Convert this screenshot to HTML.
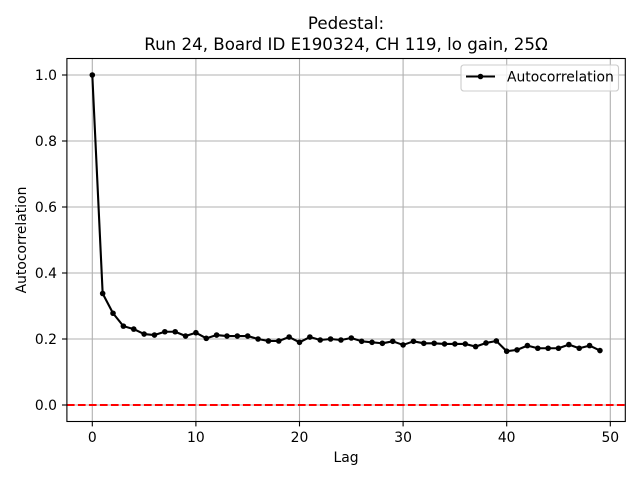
<!DOCTYPE html>
<html><head><meta charset="utf-8"><style>
html,body{margin:0;padding:0;background:#fff;}
svg{display:block;}
text{font-family:"DejaVu Sans","Liberation Sans",sans-serif;fill:#000;}
</style></head><body>
<svg width="640" height="480" viewBox="0 0 640 480" xmlns="http://www.w3.org/2000/svg">
<rect width="640" height="480" fill="#fff"/>
<!-- grid -->
<g stroke="#b0b0b0" stroke-width="1.1">
<line x1="92.3" y1="58.5" x2="92.3" y2="421.5"/>
<line x1="195.9" y1="58.5" x2="195.9" y2="421.5"/>
<line x1="299.5" y1="58.5" x2="299.5" y2="421.5"/>
<line x1="403.1" y1="58.5" x2="403.1" y2="421.5"/>
<line x1="506.7" y1="58.5" x2="506.7" y2="421.5"/>
<line x1="610.3" y1="58.5" x2="610.3" y2="421.5"/>
<line x1="66.9" y1="405" x2="625.3" y2="405"/>
<line x1="66.9" y1="339" x2="625.3" y2="339"/>
<line x1="66.9" y1="273" x2="625.3" y2="273"/>
<line x1="66.9" y1="207" x2="625.3" y2="207"/>
<line x1="66.9" y1="141" x2="625.3" y2="141"/>
<line x1="66.9" y1="75" x2="625.3" y2="75"/>
</g>
<!-- data line -->
<polyline fill="none" stroke="#000" stroke-width="2.1" stroke-linejoin="round" points="92.3,75 102.66,293.46 113.02,313.26 123.38,326.13 133.74,329.1 144.1,334.05 154.46,335.04 164.82,331.74 175.18,331.74 185.54,336.03 195.9,332.73 206.26,338.34 216.62,335.04 226.98,336.03 237.34,336.03 247.7,336.03 258.06,339 268.42,340.98 278.78,340.98 289.14,337.02 299.5,342.3 309.86,337.02 320.22,339.99 330.58,339 340.94,339.99 351.3,338.01 361.66,341.31 372.02,342.3 382.38,343.29 392.74,341.31 403.1,344.94 413.46,341.31 423.82,343.29 434.18,343.29 444.54,343.95 454.9,343.95 465.26,343.95 475.62,346.59 485.98,342.96 496.34,340.98 506.7,351.21 517.06,349.89 527.42,345.6 537.78,348.24 548.14,348.24 558.5,348.24 568.86,344.61 579.22,348.24 589.58,345.6 599.94,350.55"/>
<g fill="#000">
<circle cx="92.3" cy="75" r="2.8"/><circle cx="102.66" cy="293.46" r="2.8"/><circle cx="113.02" cy="313.26" r="2.8"/><circle cx="123.38" cy="326.13" r="2.8"/><circle cx="133.74" cy="329.1" r="2.8"/><circle cx="144.1" cy="334.05" r="2.8"/><circle cx="154.46" cy="335.04" r="2.8"/><circle cx="164.82" cy="331.74" r="2.8"/><circle cx="175.18" cy="331.74" r="2.8"/><circle cx="185.54" cy="336.03" r="2.8"/><circle cx="195.9" cy="332.73" r="2.8"/><circle cx="206.26" cy="338.34" r="2.8"/><circle cx="216.62" cy="335.04" r="2.8"/><circle cx="226.98" cy="336.03" r="2.8"/><circle cx="237.34" cy="336.03" r="2.8"/><circle cx="247.7" cy="336.03" r="2.8"/><circle cx="258.06" cy="339" r="2.8"/><circle cx="268.42" cy="340.98" r="2.8"/><circle cx="278.78" cy="340.98" r="2.8"/><circle cx="289.14" cy="337.02" r="2.8"/><circle cx="299.5" cy="342.3" r="2.8"/><circle cx="309.86" cy="337.02" r="2.8"/><circle cx="320.22" cy="339.99" r="2.8"/><circle cx="330.58" cy="339" r="2.8"/><circle cx="340.94" cy="339.99" r="2.8"/><circle cx="351.3" cy="338.01" r="2.8"/><circle cx="361.66" cy="341.31" r="2.8"/><circle cx="372.02" cy="342.3" r="2.8"/><circle cx="382.38" cy="343.29" r="2.8"/><circle cx="392.74" cy="341.31" r="2.8"/><circle cx="403.1" cy="344.94" r="2.8"/><circle cx="413.46" cy="341.31" r="2.8"/><circle cx="423.82" cy="343.29" r="2.8"/><circle cx="434.18" cy="343.29" r="2.8"/><circle cx="444.54" cy="343.95" r="2.8"/><circle cx="454.9" cy="343.95" r="2.8"/><circle cx="465.26" cy="343.95" r="2.8"/><circle cx="475.62" cy="346.59" r="2.8"/><circle cx="485.98" cy="342.96" r="2.8"/><circle cx="496.34" cy="340.98" r="2.8"/><circle cx="506.7" cy="351.21" r="2.8"/><circle cx="517.06" cy="349.89" r="2.8"/><circle cx="527.42" cy="345.6" r="2.8"/><circle cx="537.78" cy="348.24" r="2.8"/><circle cx="548.14" cy="348.24" r="2.8"/><circle cx="558.5" cy="348.24" r="2.8"/><circle cx="568.86" cy="344.61" r="2.8"/><circle cx="579.22" cy="348.24" r="2.8"/><circle cx="589.58" cy="345.6" r="2.8"/><circle cx="599.94" cy="350.55" r="2.8"/>
</g>
<!-- red dashed zero line -->
<line x1="66.9" y1="405" x2="625.3" y2="405" stroke="#ff0000" stroke-width="2.1" stroke-dasharray="7.7,3.3"/>
<!-- spines -->
<rect x="66.9" y="58.5" width="558.4" height="363" fill="none" stroke="#000" stroke-width="1.1"/>
<!-- ticks -->
<g stroke="#000" stroke-width="1.1">
<line x1="92.3" y1="421.5" x2="92.3" y2="426.4"/>
<line x1="195.9" y1="421.5" x2="195.9" y2="426.4"/>
<line x1="299.5" y1="421.5" x2="299.5" y2="426.4"/>
<line x1="403.1" y1="421.5" x2="403.1" y2="426.4"/>
<line x1="506.7" y1="421.5" x2="506.7" y2="426.4"/>
<line x1="610.3" y1="421.5" x2="610.3" y2="426.4"/>
<line x1="62" y1="405" x2="66.9" y2="405"/>
<line x1="62" y1="339" x2="66.9" y2="339"/>
<line x1="62" y1="273" x2="66.9" y2="273"/>
<line x1="62" y1="207" x2="66.9" y2="207"/>
<line x1="62" y1="141" x2="66.9" y2="141"/>
<line x1="62" y1="75" x2="66.9" y2="75"/>
</g>
<g font-size="13.9px" text-anchor="middle">
<text x="92.3" y="442">0</text>
<text x="195.9" y="442">10</text>
<text x="299.5" y="442">20</text>
<text x="403.1" y="442">30</text>
<text x="506.7" y="442">40</text>
<text x="610.3" y="442">50</text>
</g>
<g font-size="13.9px" text-anchor="end">
<text x="57" y="410">0.0</text>
<text x="57" y="344">0.2</text>
<text x="57" y="278">0.4</text>
<text x="57" y="212">0.6</text>
<text x="57" y="146">0.8</text>
<text x="57" y="80">1.0</text>
</g>
<text x="346" y="462" font-size="13.9px" text-anchor="middle">Lag</text>
<text transform="translate(26,240) rotate(-90)" font-size="13.9px" text-anchor="middle">Autocorrelation</text>
<g font-size="16.67px" text-anchor="middle">
<text x="346" y="29">Pedestal:</text>
<text x="346" y="50">Run 24, Board ID E190324, CH 119, lo gain, 25Ω</text>
</g>
<!-- legend -->
<rect x="461" y="65" width="157.5" height="26" rx="2.8" fill="#fff" fill-opacity="0.8" stroke="#cccccc" stroke-width="1.1"/>
<line x1="466" y1="76.5" x2="495" y2="76.5" stroke="#000" stroke-width="2.1"/>
<circle cx="480.5" cy="76.5" r="2.8" fill="#000"/>
<text x="507" y="81.5" font-size="13.9px">Autocorrelation</text>
</svg>
</body></html>
